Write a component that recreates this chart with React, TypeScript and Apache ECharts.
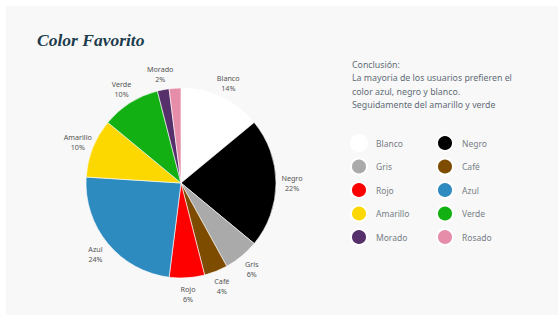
import React, { useEffect, useRef } from "react";
import * as echarts from "echarts";

const categories = ["Blanco", "Negro", "Gris", "Café", "Rojo", "Azul", "Amarillo", "Verde", "Morado", "Rosado"];
const values = [14, 22, 6, 4, 6, 24, 10, 10, 2, 2];
const colors = ["#ffffff", "#000000", "#aaaaaa", "#7e4c00", "#ff0000", "#2e8bc0", "#fdd800", "#12b012", "#56306a", "#e68ea9"];
const hiddenLabels = ["Rosado"];
const title = "Color Favorito";
const conclusionLines = [
  "Conclusión:",
  "La mayoria de los usuarios prefieren el",
  "color azul, negro y blanco.",
  "Seguidamente del amarillo y verde",
];
const legendLeft = ["Blanco", "Gris", "Rojo", "Amarillo", "Morado"];
const legendRight = ["Negro", "Café", "Azul", "Verde", "Rosado"];

const FONT = "'Noto Sans', sans-serif";

export default function App() {
  const ref = useRef<HTMLDivElement>(null);
  useEffect(() => {
    if (!ref.current) return;
    const chart = echarts.init(ref.current, null, { renderer: "svg" });
    const data = categories.map((name, i) => ({
      name,
      value: values[i],
      itemStyle: { color: colors[i] },
    }));
    const labelData = categories.map((name, i) => ({
      name,
      value: values[i],
      label: { show: !hiddenLabels.includes(name) },
    }));
    const legendCommon = {
      orient: "vertical" as const,
      icon: "circle",
      itemWidth: 16,
      itemHeight: 16,
      itemGap: 5.5,
      padding: 0,
      selectedMode: false,
      textStyle: { fontFamily: FONT, fontSize: 8.5, color: "#767e84", padding: [0, 0, 0, 4] },
    };
    chart.setOption({
      animation: false,
      backgroundColor: "#ffffff",
      graphic: [
        { type: "rect", left: 6, top: 6, shape: { width: 552, height: 309 }, style: { fill: "#f8f8f8" }, z: -10, silent: true },
        {
          type: "text",
          left: 37,
          top: 31,
          style: { text: title, font: "italic bold 17.5px 'Liberation Serif', serif", fill: "#1d3c4c" },
        },
        ...conclusionLines.map((t, i) => ({
          type: "text",
          left: 352,
          top: 60 + i * 13.5,
          style: { text: t, fontFamily: FONT, fontSize: 8.8, fill: "#5f6c76" },
        })),
      ],
      legend: [
        { ...legendCommon, left: 350, top: 134, data: legendLeft },
        { ...legendCommon, left: 436, top: 134, data: legendRight },
      ],
      series: [
        {
          type: "pie",
          center: [181, 183],
          radius: [0, 95],
          startAngle: 90,
          clockwise: true,
          data,
          label: { show: false },
          labelLine: { show: false },
          itemStyle: { borderColor: "#ffffff", borderWidth: 0.6 },
          silent: true,
        },
        {
          type: "pie",
          center: [181, 183],
          radius: [0, 216],
          startAngle: 90,
          clockwise: true,
          data: labelData,
          legendHoverLink: false,
          itemStyle: { color: "rgba(0,0,0,0)" },
          label: {
            show: true,
            position: "inside",
            formatter: "{b}\n{c}%",
            fontFamily: FONT,
            fontSize: 7.2,
            lineHeight: 10,
            color: "#555555",
          },
          labelLine: { show: false },
          silent: true,
          z: 1,
        },
      ],
    });
    return () => chart.dispose();
  }, []);
  return <div ref={ref} style={{ position: "absolute", left: 0, top: 0, width: 558, height: 316 }} />;
}
